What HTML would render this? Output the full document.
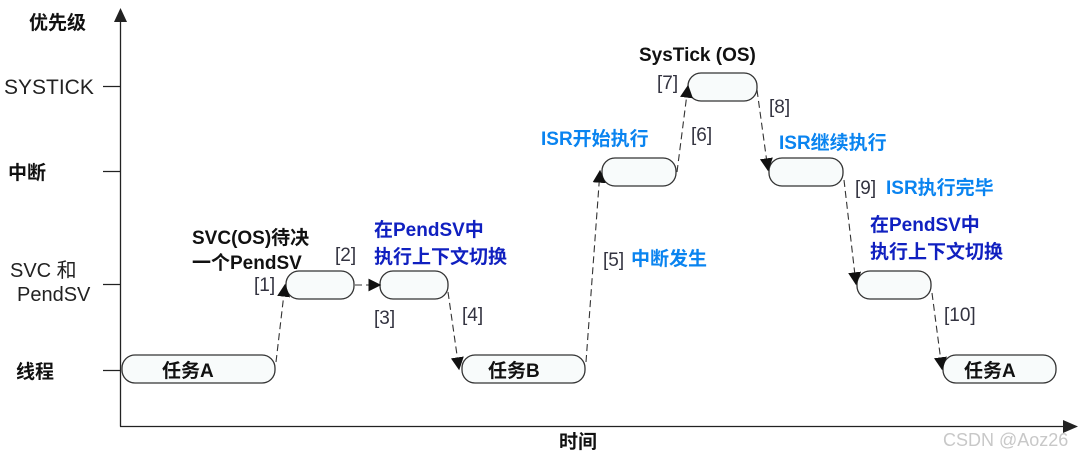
<!DOCTYPE html>
<html><head><meta charset="utf-8"><style>
html,body{margin:0;padding:0;background:#fff;}
svg{display:block;}
text{font-family:"Liberation Sans","Noto Sans CJK SC",sans-serif;}
.b{font-weight:bold;fill:#111;font-size:19px;}
.n{fill:#333340;font-size:19px;}
.lb{fill:#0a84f0;font-weight:bold;font-size:19px;}
.db{fill:#1020c0;font-weight:bold;font-size:19px;}
.box{fill:#f8fbfb;stroke:#333;stroke-width:1.3;}
.d{stroke:#333;stroke-width:1.1;stroke-dasharray:7,4;fill:none;}
</style></head><body>
<svg width="1079" height="454" viewBox="0 0 1079 454" xmlns="http://www.w3.org/2000/svg">
<defs><marker id="a" viewBox="0 0 10 10" refX="9" refY="5" markerWidth="13" markerHeight="13" orient="auto" markerUnits="userSpaceOnUse"><path d="M0,0 L10,5 L0,10 z" fill="#111"/></marker></defs>
<line x1="120.5" y1="20" x2="120.5" y2="426.5" stroke="#222" stroke-width="1.3"/>
<path d="M114,22 L120.5,8 L127,22 z" fill="#222"/>
<line x1="120" y1="426.5" x2="1065" y2="426.5" stroke="#222" stroke-width="1.3"/>
<path d="M1063,420 L1078,426.5 L1063,433 z" fill="#222"/>
<g stroke="#222" stroke-width="1.2">
<line x1="103" y1="86.5" x2="120" y2="86.5"/>
<line x1="103" y1="171.5" x2="120" y2="171.5"/>
<line x1="103" y1="284.5" x2="120" y2="284.5"/>
<line x1="103" y1="370.5" x2="120" y2="370.5"/>
</g>
<text x="29" y="29" class="b">优先级</text>
<text x="4" y="94" style="font-size:21px;fill:#222">SYSTICK</text>
<text x="8" y="179" class="b">中断</text>
<text x="10" y="277" style="font-size:20px;fill:#222">SVC 和</text>
<text x="17" y="301" style="font-size:20px;fill:#222">PendSV</text>
<text x="16" y="378" class="b">线程</text>
<text x="559" y="448" class="b">时间</text>
<rect class="box" x="122" y="355" width="153" height="28" rx="13"/>
<rect class="box" x="286" y="271" width="68" height="28" rx="13"/>
<rect class="box" x="380" y="271" width="68" height="28" rx="13"/>
<rect class="box" x="462" y="355" width="123" height="28" rx="13"/>
<rect class="box" x="602" y="158" width="74" height="28" rx="13"/>
<rect class="box" x="688" y="73" width="69" height="28" rx="13"/>
<rect class="box" x="769" y="158" width="74" height="28" rx="13"/>
<rect class="box" x="857" y="271" width="74" height="28" rx="13"/>
<rect class="box" x="943" y="355" width="113" height="28" rx="13"/>
<text x="162" y="377" class="b">任务A</text>
<text x="488" y="377" class="b">任务B</text>
<text x="964" y="377" class="b">任务A</text>
<g marker-end="url(#a)">
<line class="d" x1="276" y1="362" x2="285" y2="285"/>
<line class="d" x1="355" y1="285" x2="380" y2="285" stroke-dasharray="6,6"/>
<line class="d" x1="448" y1="292" x2="459" y2="369"/>
<line class="d" x1="586" y1="362" x2="600" y2="171"/>
<line class="d" x1="677" y1="172" x2="688" y2="86"/>
<line class="d" x1="757" y1="90" x2="768" y2="170"/>
<line class="d" x1="844" y1="180" x2="856" y2="284"/>
<line class="d" x1="932" y1="293" x2="942" y2="369"/>
</g>
<text x="254" y="291" class="n">[1]</text>
<text x="335" y="261" class="n">[2]</text>
<text x="374" y="324" class="n">[3]</text>
<text x="462" y="321" class="n">[4]</text>
<text x="603" y="266" class="n">[5]</text>
<text x="691" y="141" class="n">[6]</text>
<text x="657" y="89" class="n">[7]</text>
<text x="769" y="113" class="n">[8]</text>
<text x="855" y="194" class="n">[9]</text>
<text x="944" y="321" class="n">[10]</text>
<text x="192" y="244" class="b">SVC(OS)待决</text>
<text x="192" y="269" class="b">一个PendSV</text>
<text x="374" y="236" class="db">在PendSV中</text>
<text x="374" y="263" class="db">执行上下文切换</text>
<text x="631" y="265" class="lb">中断发生</text>
<text x="541" y="145" class="lb">ISR开始执行</text>
<text x="639" y="61" class="b">SysTick (OS)</text>
<text x="779" y="149" class="lb">ISR继续执行</text>
<text x="886" y="194" class="lb">ISR执行完毕</text>
<text x="870" y="231" class="db">在PendSV中</text>
<text x="870" y="258" class="db">执行上下文切换</text>
<text x="943" y="446" style="font-size:18px;fill:#c8c8c8">CSDN @Aoz26</text>
</svg>
</body></html>
